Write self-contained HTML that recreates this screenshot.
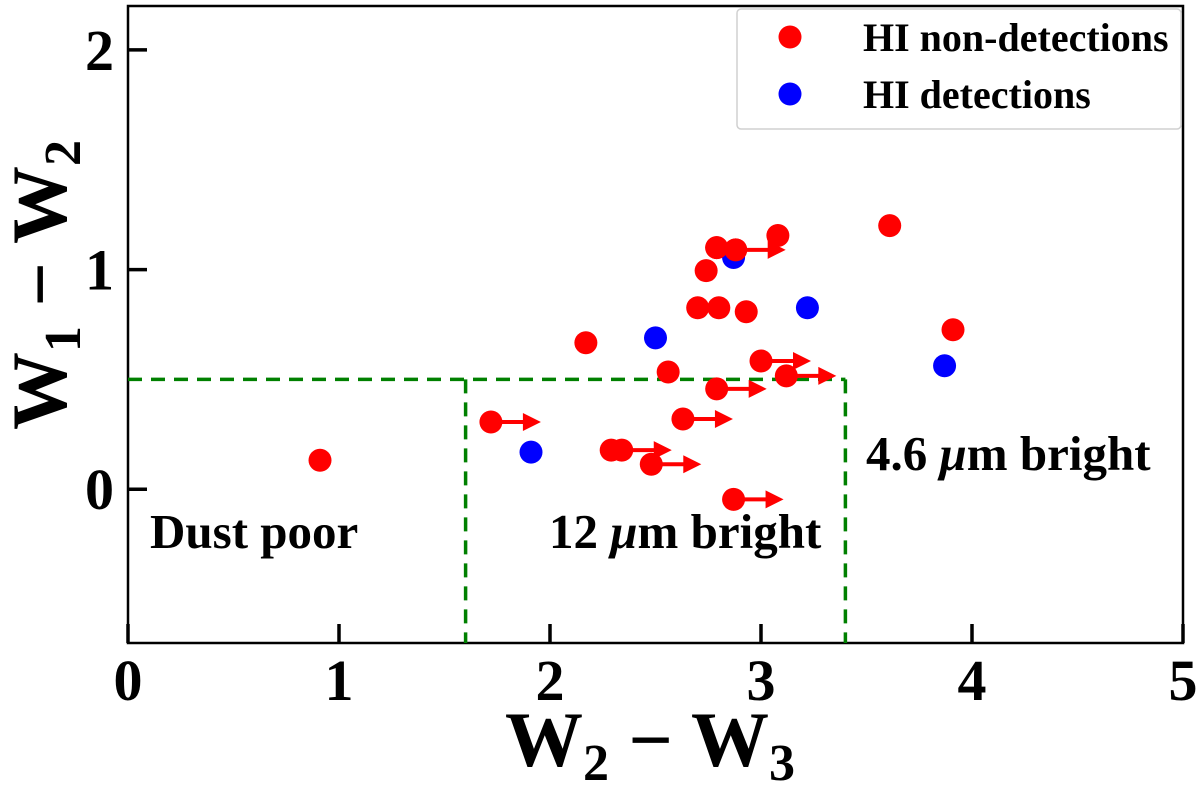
<!DOCTYPE html>
<html><head><meta charset="utf-8"><style>
html,body{margin:0;padding:0;background:#fff}
svg text{font-family:"Liberation Serif",serif;font-weight:bold}
</style></head><body>
<svg id="chart" width="1200" height="787" viewBox="0 0 1200 787" xmlns="http://www.w3.org/2000/svg">
<g id="plot"></g>
</svg>
<script>
const xTicks=[0,1,2,3,4,5];
const yTicks=[0,1,2];
const redX=[3.61,3.08,2.79,2.88,2.74,2.70,2.80,2.93,2.17,2.56,3.00,3.12,2.79,1.72,2.63,2.29,2.34,2.48,2.87,0.91,3.91];
const redY=[1.20,1.155,1.10,1.09,0.995,0.826,0.826,0.808,0.667,0.534,0.584,0.516,0.457,0.306,0.320,0.178,0.178,0.114,-0.046,0.132,0.726];
const redLimit=[0,0,0,1,0,0,0,0,0,0,1,1,1,1,1,0,1,1,1,0,0];
const blueX=[2.87,3.22,2.50,1.91,3.87];
const blueY=[1.055,0.826,0.689,0.169,0.562];
const boxY=0.5, boxX1=1.6, boxX2=3.4;

const L=128,R=1183,T=6,B=643;
const x0=0,x1=5,y0=-0.7,y1=2.2;
const sx=v=>L+(v-x0)/(x1-x0)*(R-L);
const sy=v=>B-(v-y0)/(y1-y0)*(B-T);
const NS="http://www.w3.org/2000/svg";
const g=document.getElementById('plot');
function mk(tag,attrs,parent){const e=document.createElementNS(NS,tag);for(const k in attrs)e.setAttribute(k,attrs[k]);(parent||g).appendChild(e);return e;}

let e=mk('rect',{x:L,y:T,width:R-L,height:B-T,fill:'none',stroke:'#000','stroke-width':2.5});



e=mk('path',{d:`M${sx(0)},${sy(boxY)} L${sx(boxX2)},${sy(boxY)} M${sx(boxX1)},${sy(boxY)} L${sx(boxX1)},${B} M${sx(boxX2)},${sy(boxY)} L${sx(boxX2)},${B}`,fill:'none',stroke:'#008000','stroke-width':3.5,'stroke-dasharray':'14,9'});



xTicks.forEach(v=>{
  let t=mk('line',{x1:sx(v),x2:sx(v),y1:B,y2:B-19,stroke:'#000','stroke-width':3.5});
  
  
  let l=mk('text',{x:sx(v),y:B+57,'text-anchor':'middle','font-size':58});
  l.textContent=v;
  
  
});
yTicks.forEach(v=>{
  let t=mk('line',{x1:L,x2:L+19,y1:sy(v),y2:sy(v),stroke:'#000','stroke-width':3.5});
  
  
  let l=mk('text',{x:L-14,y:sy(v)+20,'text-anchor':'end','font-size':58});
  l.textContent=v;
  
  
});

redX.forEach((xv,i)=>{
  const cx=sx(xv),cy=sy(redY[i]);
  if(redLimit[i]){
    let a=mk('line',{x1:cx,y1:cy,x2:cx+34,y2:cy,stroke:'#ff0000','stroke-width':4});
    
    
    let h=mk('polygon',{points:`${cx+32},${cy-9} ${cx+50},${cy} ${cx+32},${cy+9}`,fill:'#ff0000'});
    
    
  }
  let c=mk('circle',{cx:cx,cy:cy,r:11.5,fill:'#ff0000'});
  
  
});
blueX.forEach((xv,i)=>{
  let c=mk('circle',{cx:sx(xv),cy:sy(blueY[i]),r:11.5,fill:'#0000ff'});
  
  
});
[2,3].forEach(i=>{let c=mk('circle',{cx:sx(redX[i]),cy:sy(redY[i]),r:11.5,fill:'#ff0000'});

});

function txt(x,y,s,html,name){let t=mk('text',{x:x,y:y,'font-size':s});t.innerHTML=html;return t;}
txt(150,548,49,'Dust poor','dust-poor-label');
txt(549,548,49,'12 <tspan font-style="italic">μ</tspan>m bright','12um-bright-label');
txt(866,470,49,'4.6 <tspan font-style="italic">μ</tspan>m bright','4-6um-bright-label');

let xt=txt(650,766,78,'W<tspan font-size="52" dy="14">2</tspan><tspan dy="-14"> − W</tspan><tspan font-size="52" dy="14">3</tspan>','x-axis-title');
xt.setAttribute('text-anchor','middle');
let yt=txt(0,0,78,'W<tspan font-size="52" dy="14">1</tspan><tspan dy="-14"> − W</tspan><tspan font-size="52" dy="14">2</tspan>','y-axis-title');
yt.setAttribute('text-anchor','middle');
yt.setAttribute('transform','translate(66,285) rotate(-90)');

let lg=mk('g',{});


e=mk('rect',{x:737,y:9,width:444,height:120,rx:4,fill:'#fff',stroke:'#d0d0d0','stroke-width':1.5},lg);


e=mk('circle',{cx:790,cy:37,r:11.5,fill:'#ff0000'},lg);


e=mk('circle',{cx:790,cy:94,r:11.5,fill:'#0000ff'},lg);


e=mk('text',{x:863,y:51,'font-size':40},lg);e.textContent='HI non-detections';


e=mk('text',{x:863,y:108,'font-size':40},lg);e.textContent='HI detections';


</script>
</body></html>
